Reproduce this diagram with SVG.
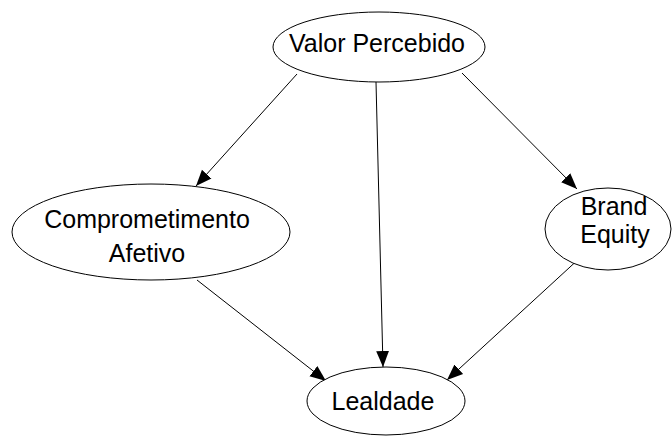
<svg xmlns="http://www.w3.org/2000/svg" width="672" height="437" viewBox="0 0 672 437">
<style>
.n{fill:#fff;stroke:#000;stroke-width:1}
.t{font-family:"Liberation Sans",Arial,sans-serif;font-size:25px;fill:#000;text-anchor:middle}
.e{stroke:#000;stroke-width:1;fill:none;marker-end:url(#ah)}
</style>
<defs>
<marker id="ah" viewBox="0 0 10 10" refX="10" refY="5" markerWidth="16" markerHeight="16" markerUnits="userSpaceOnUse" orient="auto">
<path d="M0,1 L10,5 L0,9 Z" fill="#000"/>
</marker>
</defs>
<rect width="672" height="437" fill="#fff"/>
<g id="connectors">
<line class="e" x1="297" y1="74" x2="196" y2="186"/>
<line class="e" x1="376" y1="82" x2="383" y2="367"/>
<line class="e" x1="462" y1="73" x2="577" y2="189"/>
<line class="e" x1="197" y1="280" x2="326" y2="381"/>
<line class="e" x1="582" y1="256" x2="447" y2="380"/>
</g>
<g id="valor">
<ellipse class="n" cx="379" cy="47" rx="106" ry="35"/>
<text class="t" x="377" y="52">Valor Percebido</text>
</g>
<g id="comprometimento">
<ellipse class="n" cx="151" cy="232" rx="139" ry="48"/>
<text class="t" x="147" y="228">Comprometimento</text>
<text class="t" x="147" y="262">Afetivo</text>
</g>
<g id="brand">
<ellipse class="n" cx="608" cy="229" rx="63" ry="41"/>
<text class="t" x="614" y="215">Brand</text>
<text class="t" x="615" y="243">Equity</text>
</g>
<g id="lealdade">
<ellipse class="n" cx="386" cy="401" rx="79" ry="34"/>
<text class="t" x="383" y="410">Lealdade</text>
</g>
</svg>
